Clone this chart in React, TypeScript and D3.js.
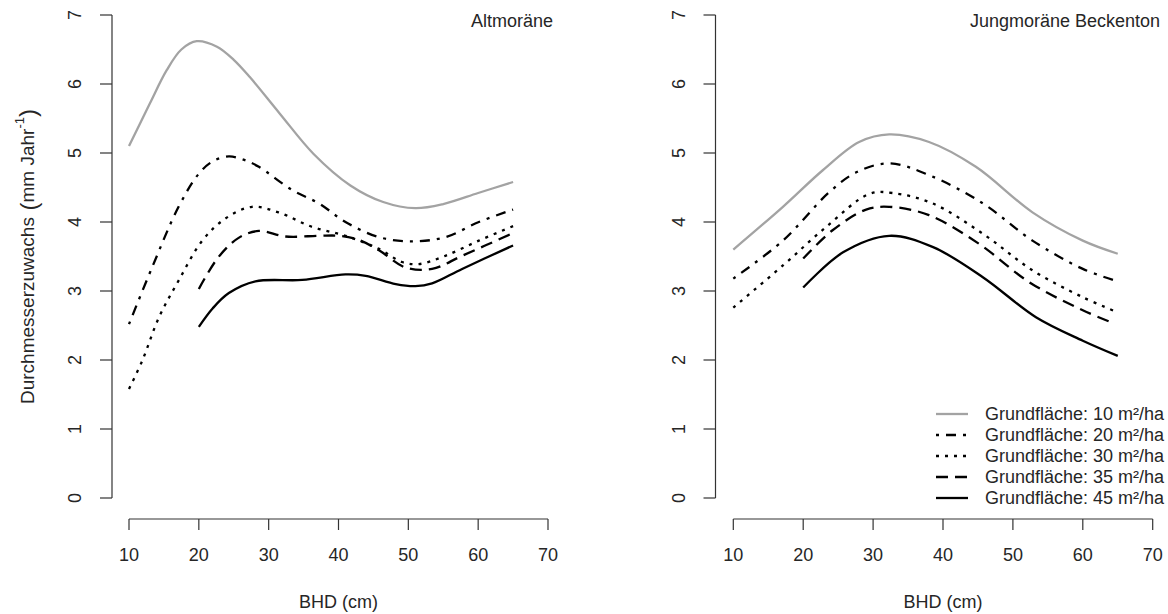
import React from "react";
import * as d3 from "d3";

type Pt = [number, number];

// Altmoräne – diameter increment (mm/year) over BHD (cm) by basal area
const altG10: Pt[] = [[10, 5.1], [13, 5.72], [15.4, 6.2], [17.5, 6.5], [19.7, 6.62], [22.6, 6.54], [25, 6.35], [27.3, 6.1], [31.6, 5.57], [36.4, 4.99], [41.7, 4.53], [46.4, 4.29], [51, 4.2], [55, 4.26], [60, 4.42], [65, 4.58]];
const altG20: Pt[] = [[10, 2.52], [13.3, 3.34], [17.1, 4.22], [20, 4.7], [22, 4.88], [24.3, 4.95], [26.5, 4.9], [28.6, 4.8], [33.4, 4.46], [37.2, 4.27], [41, 4.0], [45.8, 3.78], [50.5, 3.72], [55.3, 3.78], [60.1, 4.0], [65, 4.18]];
const altG30: Pt[] = [[10, 1.58], [11.9, 1.99], [14.3, 2.62], [17.1, 3.15], [20.5, 3.73], [23.8, 4.05], [27.6, 4.22], [31.4, 4.14], [36.2, 3.93], [41, 3.8], [45.8, 3.61], [49.1, 3.42], [51.5, 3.39], [55.3, 3.51], [60.1, 3.73], [65, 3.94]];
const altG35: Pt[] = [[20, 3.03], [22.8, 3.49], [25.7, 3.77], [28.6, 3.87], [32.4, 3.79], [37.2, 3.8], [40, 3.8], [42.9, 3.74], [45.8, 3.59], [49.6, 3.34], [53.4, 3.32], [57.7, 3.51], [65, 3.84]];
const altG45: Pt[] = [[20, 2.48], [22, 2.75], [24.3, 2.97], [28.1, 3.14], [34.8, 3.16], [41, 3.24], [43.9, 3.22], [48.2, 3.1], [51, 3.07], [53.4, 3.11], [57.7, 3.32], [65, 3.66]];

// Jungmoräne Beckenton
const jbG10: Pt[] = [[10, 3.6], [17.1, 4.22], [22.8, 4.75], [28, 5.16], [32.3, 5.27], [38, 5.16], [44.7, 4.8], [52.8, 4.14], [60, 3.73], [65, 3.54]];
const jbG20: Pt[] = [[10, 3.18], [17.1, 3.73], [23.7, 4.43], [27.6, 4.72], [32.3, 4.85], [38, 4.68], [45.7, 4.27], [52.8, 3.73], [60, 3.32], [65, 3.14]];
const jbG30: Pt[] = [[10, 2.76], [17.1, 3.37], [23.3, 3.93], [29.5, 4.41], [32.8, 4.42], [38.5, 4.27], [45.7, 3.83], [52.8, 3.3], [60, 2.91], [65, 2.69]];
const jbG35: Pt[] = [[20, 3.47], [24.2, 3.88], [29, 4.18], [32.3, 4.22], [38, 4.1], [45.2, 3.68], [52.3, 3.13], [60, 2.72], [64.5, 2.53]];
const jbG45: Pt[] = [[20, 3.05], [25.7, 3.56], [32.3, 3.8], [38.5, 3.64], [45.7, 3.2], [53.3, 2.62], [60, 2.28], [65, 2.06]];

const xTicks = [10, 20, 30, 40, 50, 60, 70];
const yTicks = [0, 1, 2, 3, 4, 5, 6, 7];

const seriesLabels = [
  "Grundfläche: 10 m²/ha",
  "Grundfläche: 20 m²/ha",
  "Grundfläche: 30 m²/ha",
  "Grundfläche: 35 m²/ha",
  "Grundfläche: 45 m²/ha",
];

const styles = [
  { stroke: "#a3a3a3", dash: undefined as string | undefined },
  { stroke: "#000", dash: "3,7,10,7" },
  { stroke: "#000", dash: "3,6" },
  { stroke: "#000", dash: "12,7" },
  { stroke: "#000", dash: undefined as string | undefined },
];

const FONT = "'Liberation Sans', Arial, sans-serif";
const FS = 18;
const TXT = "#262626";
const AX = "#333";

type PanelProps = {
  title: string;
  series: Pt[][];
  axisX: number;
  x10: number;
  x70: number;
  titleRight: number;
  showYLabel: boolean;
  legend: boolean;
};

function Panel({ title, series, axisX, x10, x70, titleRight, showYLabel, legend }: PanelProps) {
  const x = d3.scaleLinear().domain([10, 70]).range([x10, x70]);
  const y = d3.scaleLinear().domain([0, 7]).range([498, 15]);
  const axisY = 519;
  const line = d3
    .line<Pt>()
    .x((d) => x(d[0]))
    .y((d) => y(d[1]))
    .curve(d3.curveCatmullRom.alpha(0.5));

  return (
    <g>
      {/* y axis */}
      <line x1={axisX} x2={axisX} y1={y(0)} y2={y(7)} stroke={AX} strokeWidth={1.2} />
      {yTicks.map((t) => (
        <g key={`y${t}`}>
          <line x1={axisX - 12} x2={axisX} y1={y(t)} y2={y(t)} stroke={AX} strokeWidth={1.2} />
          <text
            transform={`translate(${axisX - 37},${y(t)}) rotate(-90)`}
            textAnchor="middle"
            dominantBaseline="central"
            fontFamily={FONT}
            fontSize={FS}
            fill={TXT}
          >
            {t}
          </text>
        </g>
      ))}
      {/* x axis */}
      <line x1={x(10)} x2={x(70)} y1={axisY} y2={axisY} stroke={AX} strokeWidth={1.2} />
      {xTicks.map((t) => (
        <g key={`x${t}`}>
          <line x1={x(t)} x2={x(t)} y1={axisY} y2={axisY + 11} stroke={AX} strokeWidth={1.2} />
          <text
            x={x(t)}
            y={555}
            textAnchor="middle"
            dominantBaseline="central"
            fontFamily={FONT}
            fontSize={FS}
            fill={TXT}
          >
            {t}
          </text>
        </g>
      ))}
      <text
        x={(x(10) + x(70)) / 2}
        y={602}
        textAnchor="middle"
        dominantBaseline="central"
        fontFamily={FONT}
        fontSize={FS}
        fill={TXT}
      >
        BHD (cm)
      </text>
      {showYLabel && (
        <text
          transform={`translate(27,${(y(0) + y(7)) / 2}) rotate(-90)`}
          textAnchor="middle"
          dominantBaseline="central"
          fontFamily={FONT}
          fontSize={19}
          fill={TXT}
        >
          Durchmesserzuwachs
          <tspan fontSize={24} dy={1}> (</tspan>
          <tspan dy={-1}>mm  Jahr</tspan>
          <tspan dy={-8} fontSize={13}>-1</tspan>
          <tspan dy={8} fontSize={24}>)</tspan>
        </text>
      )}
      <text
        x={titleRight}
        y={21}
        textAnchor="end"
        dominantBaseline="central"
        fontFamily={FONT}
        fontSize={FS}
        fill={TXT}
      >
        {title}
      </text>
      {series.map((s, i) => (
        <path
          key={i}
          d={line(s) ?? ""}
          fill="none"
          stroke={styles[i].stroke}
          strokeWidth={2.3}
          strokeDasharray={styles[i].dash}
        />
      ))}
      {legend &&
        seriesLabels.map((lab, i) => {
          const ly = 414 + i * 21;
          return (
            <g key={lab}>
              <line
                x1={936}
                x2={968}
                y1={ly}
                y2={ly}
                stroke={styles[i].stroke}
                strokeWidth={2.3}
                strokeDasharray={styles[i].dash}
              />
              <text x={985} y={ly} dominantBaseline="central" fontFamily={FONT} fontSize={FS} fill={TXT}>
                {lab}
              </text>
            </g>
          );
        })}
    </g>
  );
}

export default function App() {
  return (
    <svg
      width={1168}
      height={614}
      style={{ position: "absolute", left: 0, top: 0, background: "#fff" }}
    >
      <rect width={1168} height={614} fill="#fff" />
      <Panel
        title="Altmoräne"
        series={[altG10, altG20, altG30, altG35, altG45]}
        axisX={112}
        x10={129}
        x70={548}
        titleRight={553}
        showYLabel={true}
        legend={false}
      />
      <Panel
        title="Jungmoräne Beckenton"
        series={[jbG10, jbG20, jbG30, jbG35, jbG45]}
        axisX={715.5}
        x10={733.3}
        x70={1152.7}
        titleRight={1160}
        showYLabel={false}
        legend={true}
      />
    </svg>
  );
}
